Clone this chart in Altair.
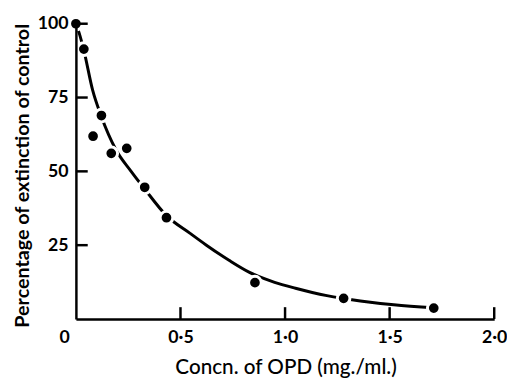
import altair as alt
import pandas as pd

# measured points
pt_x = [0.0, 0.038, 0.082, 0.122, 0.169, 0.243, 0.329, 0.433, 0.856, 1.28, 1.711]
pt_y = [100, 91.4, 61.9, 68.9, 56.1, 57.8, 44.6, 34.3, 12.3, 7.0, 3.7]

# hand-drawn fitted curve
curve_x = [0.0, 0.015, 0.038, 0.08, 0.122, 0.19, 0.264, 0.329, 0.433, 0.546,
           0.624, 0.734, 0.83, 0.95, 1.05, 1.2, 1.36, 1.52, 1.711]
curve_y = [100, 97, 91, 77.5, 68.5, 57.5, 50, 44, 35, 29,
           25, 19.8, 15.8, 12.4, 10.4, 7.9, 6.1, 4.8, 3.8]

x_ticks = [0.5, 1.0, 1.5, 2.0]
x_labels_vals = [0, 0.5, 1.0, 1.5, 2.0]
y_ticks = [25, 50, 75, 100]

pts = pd.DataFrame({"x": pt_x, "y": pt_y})
curve = pd.DataFrame({"x": curve_x, "y": curve_y})
xt = pd.DataFrame({"x": x_ticks})
yt = pd.DataFrame({"y": y_ticks})

FONT = "Lato"
W, H = 425, 300

xscale = alt.Scale(domain=[0, 2.0], nice=False, zero=True)
yscale = alt.Scale(domain=[0, 100], nice=False, zero=True)

xaxis = alt.Axis(
    values=x_labels_vals,
    labelExpr="datum.value == 0 ? '0' : replace(format(datum.value, '.1f'), '.', '·')",
    labelOffset={"condition": {"test": "datum.value == 0", "value": -12}, "value": 0},
    ticks=False, grid=False, labelFlush=False, labelOverlap=False,
    labelPadding=10, labelFont=FONT, labelFontSize=18, labelFontWeight="bold",
    labelColor="black", domainColor="black", domainWidth=2.5,
    title="Concn. of OPD (mg./ml.)", titleFont=FONT, titleFontSize=21,
    titleFontWeight=500, titleColor="black", titleX=213, titleY=55,
    titleAlign="center", titleBaseline="alphabetic", zindex=1,
)
yaxis = alt.Axis(
    values=y_ticks, format="d",
    ticks=False, grid=False, labelFlush=False, labelOverlap=False,
    labelPadding=8, labelFont=FONT, labelFontSize=18, labelFontWeight="bold",
    labelColor="black", domainColor="black", domainWidth=2.5,
    title="Percentage of extinction of control", titleFont=FONT, titleFontSize=20,
    titleFontWeight="bold", titleColor="black", titleX=-44, titleY=154,
    titleAlign="center", titleBaseline="bottom", titleAngle=-90, zindex=1,
)

line = alt.Chart(curve).mark_line(color="black", strokeWidth=3, interpolate="monotone").encode(
    x=alt.X("x:Q", scale=xscale, axis=xaxis),
    y=alt.Y("y:Q", scale=yscale, axis=yaxis),
    order="x:Q",
)

points = alt.Chart(pts).mark_circle(
    color="black", opacity=1, size=165, stroke="white", strokeWidth=3
).encode(
    x=alt.X("x:Q", scale=xscale),
    y=alt.Y("y:Q", scale=yscale),
)

ytick = alt.Chart(yt).mark_rule(color="black", strokeWidth=2.5).encode(
    y=alt.Y("y:Q", scale=yscale),
    x=alt.value(0), x2=alt.value(12),
)
xtick = alt.Chart(xt).mark_rule(color="black", strokeWidth=2.5).encode(
    x=alt.X("x:Q", scale=xscale),
    y=alt.value(H), y2=alt.value(H - 12),
)

chart = alt.layer(line, points, ytick, xtick).properties(
    width=W, height=H,
    autosize=alt.AutoSizeParams(type="none"),
    padding={"left": 69, "top": 13, "right": 13, "bottom": 58},
    background="white",
).configure_view(stroke=None)

chart.save("out.html", embed_options={"renderer": "svg", "actions": False})
